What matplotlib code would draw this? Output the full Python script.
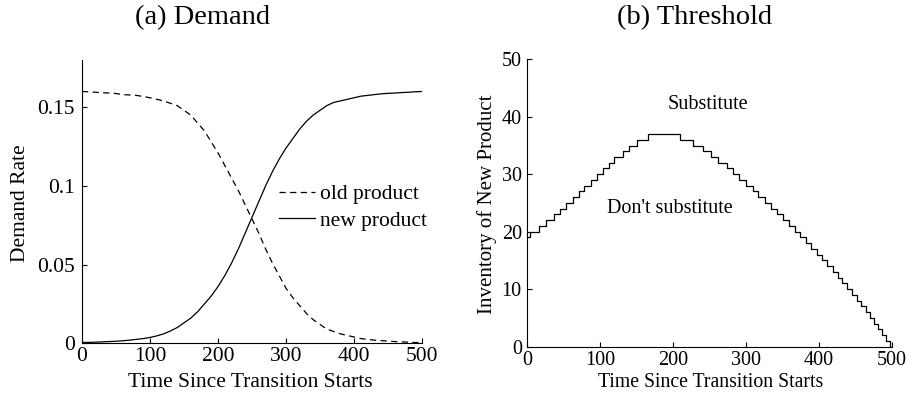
import matplotlib
matplotlib.use("Agg")
import matplotlib.pyplot as plt
from matplotlib.ticker import FuncFormatter

plt.rcParams['font.family'] = ['Liberation Serif', 'DejaVu Serif']

# (a) demand rates, every 10 time units
t = list(range(0, 501, 10))
old_product = [0.160, 0.1598, 0.1595, 0.1592, 0.159, 0.1587, 0.158, 0.1578, 0.1575, 0.1568,
               0.156, 0.155, 0.154, 0.1525, 0.151, 0.148, 0.145, 0.140, 0.135, 0.128,
               0.121, 0.113, 0.105, 0.097, 0.088, 0.079, 0.070, 0.060, 0.051, 0.043,
               0.035, 0.029, 0.024, 0.019, 0.015, 0.012, 0.009, 0.0075, 0.006, 0.005,
               0.004, 0.003, 0.0025, 0.002, 0.0017, 0.0014, 0.0011, 0.0009, 0.0007, 0.0005,
               0.0004]
new_product = [0.0005, 0.0006, 0.0007, 0.0009, 0.0011, 0.0013, 0.0016, 0.002, 0.0025, 0.003,
               0.0037, 0.0047, 0.006, 0.0078, 0.010, 0.013, 0.016, 0.020, 0.025, 0.030,
               0.036, 0.043, 0.051, 0.060, 0.070, 0.080, 0.090, 0.100, 0.109, 0.117,
               0.124, 0.130, 0.136, 0.141, 0.145, 0.148, 0.151, 0.153, 0.154, 0.155,
               0.156, 0.157, 0.1575, 0.158, 0.1585, 0.1588, 0.159, 0.1593, 0.1595, 0.1598,
               0.160]

# (b) threshold: time at which each level starts
step_t = [0, 4, 16, 26.5, 36.5, 45.7, 53.9, 63, 70.8, 78.5, 87.7, 95.9, 103.7,
          111.9, 119.6, 131, 139.5, 150.9, 165.5,
          210, 227, 240.6, 251.6, 262, 273.5, 282.6, 290.8, 300, 309, 317,
          325.6, 334.1, 342.4, 350.6, 358.7, 366.6, 374.4, 382.1, 389.6, 397.0,
          404.3, 411.5, 418.5, 425.4, 432.1, 438.7, 445.2, 451.6, 457.8, 463.9,
          469.8, 475.7, 481.4, 486.9, 492.4, 497.7, 500]
step_level = [19, 20, 21, 22, 23, 24, 25, 26, 27, 28, 29, 30, 31, 32, 33, 34, 35, 36, 37,
              36, 35, 34, 33, 32, 31, 30, 29, 28, 27, 26,
              25, 24, 23, 22, 21, 20, 19, 18, 17, 16, 15, 14, 13, 12, 11, 10,
              9, 8, 7, 6, 5, 4, 3, 2, 1, 0, 0]

fig = plt.figure(figsize=(9.09, 3.96), dpi=100)
ax1 = fig.add_axes([0.0902, 0.1331, 0.374, 0.7154])
ax2 = fig.add_axes([0.5798, 0.1245, 0.4015, 0.7258])

for ax in (ax1, ax2):
    ax.spines['top'].set_visible(False)
    ax.spines['right'].set_visible(False)
    for s in ('left', 'bottom'):
        ax.spines[s].set_linewidth(0.8)
    ax.tick_params(direction='in', length=3.6, width=0.8)

# left panel
ax1.plot(t, old_product, color='black', lw=0.9, linestyle=(0, (5, 3.5)), label='old product')
ax1.plot(t, new_product, color='black', lw=0.9, label='new product')
ax1.set_xlim(0, 500)
ax1.set_ylim(0, 0.18)
ax1.set_xticks([0, 100, 200, 300, 400, 500])
ax1.set_yticks([0, 0.05, 0.1, 0.15])
ax1.yaxis.set_major_formatter(FuncFormatter(lambda v, p: '%g' % v))
ax1.tick_params(axis='y', labelsize=15.5, pad=5)
ax1.tick_params(axis='x', labelsize=15.5, pad=3)
ax1.set_xlabel('Time Since Transition Starts', fontsize=15.5, va='center')
ax1.xaxis.set_label_coords(0.494, -0.14)
ax1.set_ylabel('Demand Rate', fontsize=15.5, va='center')
ax1.yaxis.set_label_coords(-0.182, 0.495)
ax1.legend(loc='center left', bbox_to_anchor=(0.58, 0.479), frameon=False,
           borderpad=0, borderaxespad=0, handlelength=1.66, handletextpad=0.23,
           labelspacing=0.3, fontsize=15.5)

# right panel
ax2.step(step_t, step_level, where='post', color='black', lw=0.9)
ax2.set_xlim(0, 500)
ax2.set_ylim(0, 50)
ax2.set_xticks([0, 100, 200, 300, 400, 500])
ax2.set_yticks([0, 10, 20, 30, 40, 50])
ax2.tick_params(axis='y', labelsize=14.5, pad=3.8)
ax2.tick_params(axis='x', labelsize=14.5, pad=3)
ax2.set_xlabel('Time Since Transition Starts', fontsize=14.2, va='center')
ax2.xaxis.set_label_coords(0.502, -0.126)
ax2.set_ylabel('Inventory of New Product', fontsize=15, va='center')
ax2.yaxis.set_label_coords(-0.11, 0.497)
ax2.text(248, 42.2, 'Substitute', fontsize=14.5, ha='center', va='center')
ax2.text(196, 24.1, "Don't substitute", fontsize=14.5, ha='center', va='center')

fig.text(0.2233, 0.956, '(a) Demand', fontsize=20.5, ha='center', va='center')
fig.text(0.7637, 0.956, '(b) Threshold', fontsize=20.5, ha='center', va='center')

fig.savefig('out.png', dpi=100)
